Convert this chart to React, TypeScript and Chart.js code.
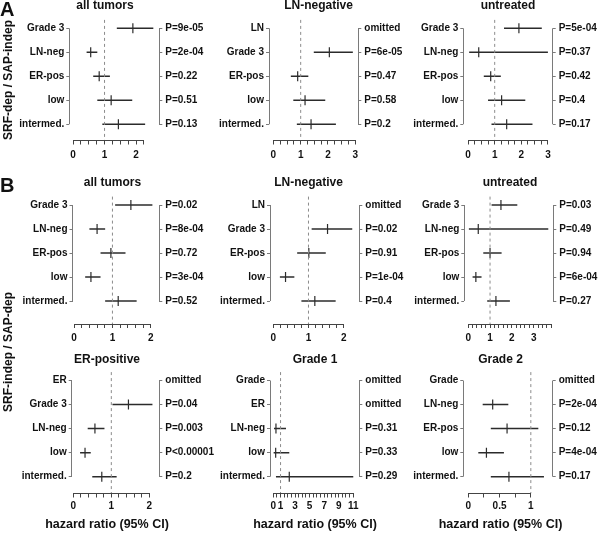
import React, { useEffect, useRef } from 'react';
import { Chart, registerables } from 'chart.js';

Chart.register(...registerables);

const FONT = "'Liberation Sans', Arial, Helvetica, sans-serif";

// ---------------- data ----------------
// Row A: SRF-dep / SAP-indep
const a1Title = 'all tumors';
const a1Categories = ['Grade 3', 'LN-neg', 'ER-pos', 'low', 'intermed.'];
const a1PValues = ['P=9e-05', 'P=2e-04', 'P=0.22', 'P=0.51', 'P=0.13'];
const a1HR = [1.9, 0.56, 0.83, 1.21, 1.44];
const a1Lower = [1.39, 0.43, 0.64, 0.77, 0.93];
const a1Upper = [2.55, 0.77, 1.17, 1.88, 2.29];
const a1TickLabels = [0, 1, 2];

const a2Title = 'LN-negative';
const a2Categories = ['LN', 'Grade 3', 'ER-pos', 'low', 'intermed.'];
const a2PValues = ['omitted', 'P=6e-05', 'P=0.47', 'P=0.58', 'P=0.2'];
const a2HR = [null, 2.05, 0.89, 1.16, 1.38];
const a2Lower = [null, 1.48, 0.64, 0.73, 0.86];
const a2Upper = [null, 2.91, 1.28, 1.9, 2.29];
const a2TickLabels = [0, 1, 2, 3];

const a3Title = 'untreated';
const a3Categories = ['Grade 3', 'LN-neg', 'ER-pos', 'low', 'intermed.'];
const a3PValues = ['P=5e-04', 'P=0.37', 'P=0.42', 'P=0.4', 'P=0.17'];
const a3HR = [1.91, 0.4, 0.85, 1.26, 1.45];
const a3Lower = [1.35, 0.04, 0.59, 0.75, 0.88];
const a3Upper = [2.77, 3.0, 1.23, 2.15, 2.42];
const a3TickLabels = [0, 1, 2, 3];

// Row B: SRF-indep / SAP-dep
const b1Title = 'all tumors';
const b1Categories = ['Grade 3', 'LN-neg', 'ER-pos', 'low', 'intermed.'];
const b1PValues = ['P=0.02', 'P=8e-04', 'P=0.72', 'P=3e-04', 'P=0.52'];
const b1HR = [1.48, 0.6, 0.96, 0.44, 1.15];
const b1Lower = [1.07, 0.4, 0.69, 0.29, 0.81];
const b1Upper = [2.04, 0.81, 1.34, 0.69, 1.63];
const b1TickLabels = [0, 1, 2];

const b2Title = 'LN-negative';
const b2Categories = ['LN', 'Grade 3', 'ER-pos', 'low', 'intermed.'];
const b2PValues = ['omitted', 'P=0.02', 'P=0.91', 'P=1e-04', 'P=0.4'];
const b2HR = [null, 1.54, 1.01, 0.35, 1.18];
const b2Lower = [null, 1.09, 0.68, 0.19, 0.8];
const b2Upper = [null, 2.24, 1.49, 0.6, 1.77];
const b2TickLabels = [0, 1, 2];

const b3Title = 'untreated';
const b3Categories = ['Grade 3', 'LN-neg', 'ER-pos', 'low', 'intermed.'];
const b3PValues = ['P=0.03', 'P=0.49', 'P=0.94', 'P=6e-04', 'P=0.27'];
const b3HR = [1.5, 0.46, 1.0, 0.35, 1.27];
const b3Lower = [1.07, 0.03, 0.69, 0.2, 0.87];
const b3Upper = [2.25, 3.67, 1.53, 0.61, 1.91];
const b3TickLabels = [0, 1, 2, 3];

const c1Title = 'ER-positive';
const c1Categories = ['ER', 'Grade 3', 'LN-neg', 'low', 'intermed.'];
const c1PValues = ['omitted', 'P=0.04', 'P=0.003', 'P<0.00001', 'P=0.2'];
const c1HR = [null, 1.45, 0.57, 0.31, 0.75];
const c1Lower = [null, 1.03, 0.38, 0.18, 0.5];
const c1Upper = [null, 2.08, 0.82, 0.46, 1.14];
const c1TickLabels = [0, 1, 2];

const c2Title = 'Grade 1';
const c2Categories = ['Grade', 'ER', 'LN-neg', 'low', 'intermed.'];
const c2PValues = ['omitted', 'omitted', 'P=0.31', 'P=0.33', 'P=0.29'];
const c2HR = [null, null, 0.37, 0.33, 2.2];
const c2Lower = [null, null, 0.1, 0.05, 0.37];
const c2Upper = [null, null, 1.75, 2.2, 11];
const c2TickLabels = [0, 1, 3, 5, 7, 9, 11];

const c3Title = 'Grade 2';
const c3Categories = ['Grade', 'LN-neg', 'ER-pos', 'low', 'intermed.'];
const c3PValues = ['omitted', 'P=2e-04', 'P=0.12', 'P=4e-04', 'P=0.17'];
const c3HR = [null, 0.39, 0.62, 0.29, 0.65];
const c3Lower = [null, 0.23, 0.36, 0.16, 0.36];
const c3Upper = [null, 0.64, 1.12, 0.57, 1.21];
const c3TickLabels = [0, 0.5, 1];

const xAxisTitle = 'hazard ratio (95% CI)';
const rowALabel = 'SRF-dep / SAP-indep';
const rowBLabel = 'SRF-indep / SAP-dep';

// ---------------- layout ----------------
type RowGeo = { titleY: number; row0: number; spacing: number; axisY: number; tickPad: number; axisBox: number; axisTitleY?: number };
const ROWS: Record<string, RowGeo> = {
  A: { titleY: 6, row0: 28.3, spacing: 24, axisY: 140.5, tickPad: 4.5, axisBox: 24 },
  B: { titleY: 183, row0: 205, spacing: 24, axisY: 324, tickPad: 4, axisBox: 24 },
  C: { titleY: 360, row0: 380.5, spacing: 24.05, axisY: 493.5, tickPad: 2.5, axisBox: 20, axisTitleY: 525 },
};

type Panel = {
  key: string;
  row: 'A' | 'B' | 'C';
  title: string;
  categories: string[];
  pValues: string[];
  hr: (number | null)[];
  lower: (number | null)[];
  upper: (number | null)[];
  tickLabels: number[];
  chartLeft: number;
  chartRight: number;
  titleX: number;
  xMin: number;
  xMax: number;
  axisFrom: number;
  axisTo: number;
  axisStep: number;
};

const PANELS: Panel[] = [
  { key: 'a1', row: 'A', title: a1Title, categories: a1Categories, pValues: a1PValues, hr: a1HR, lower: a1Lower, upper: a1Upper, tickLabels: a1TickLabels,
    chartLeft: 69.3, chartRight: 159.3, titleX: 105, xMin: -0.12, xMax: 2.74, axisFrom: 0, axisTo: 2.25, axisStep: 0.25 },
  { key: 'a2', row: 'A', title: a2Title, categories: a2Categories, pValues: a2PValues, hr: a2HR, lower: a2Lower, upper: a2Upper, tickLabels: a2TickLabels,
    chartLeft: 269, chartRight: 358.3, titleX: 318.7, xMin: -0.16, xMax: 3.11, axisFrom: 0, axisTo: 3, axisStep: 0.25 },
  { key: 'a3', row: 'A', title: a3Title, categories: a3Categories, pValues: a3PValues, hr: a3HR, lower: a3Lower, upper: a3Upper, tickLabels: a3TickLabels,
    chartLeft: 463.3, chartRight: 552.7, titleX: 508, xMin: -0.18, xMax: 3.18, axisFrom: 0, axisTo: 3, axisStep: 0.25 },
  { key: 'b1', row: 'B', title: b1Title, categories: b1Categories, pValues: b1PValues, hr: b1HR, lower: b1Lower, upper: b1Upper, tickLabels: b1TickLabels,
    chartLeft: 72.5, chartRight: 159.3, titleX: 112.5, xMin: -0.04, xMax: 2.22, axisFrom: 0, axisTo: 2, axisStep: 0.2 },
  { key: 'b2', row: 'B', title: b2Title, categories: b2Categories, pValues: b2PValues, hr: b2HR, lower: b2Lower, upper: b2Upper, tickLabels: b2TickLabels,
    chartLeft: 270, chartRight: 359.3, titleX: 308.3, xMin: -0.09, xMax: 2.44, axisFrom: 0, axisTo: 2, axisStep: 0.2 },
  { key: 'b3', row: 'B', title: b3Title, categories: b3Categories, pValues: b3PValues, hr: b3HR, lower: b3Lower, upper: b3Upper, tickLabels: b3TickLabels,
    chartLeft: 464.3, chartRight: 553.3, titleX: 510, xMin: -0.18, xMax: 3.9, axisFrom: 0, axisTo: 3.8, axisStep: 0.2 },
  { key: 'c1', row: 'C', title: c1Title, categories: c1Categories, pValues: c1PValues, hr: c1HR, lower: c1Lower, upper: c1Upper, tickLabels: c1TickLabels,
    chartLeft: 71.7, chartRight: 159.3, titleX: 107, xMin: -0.04, xMax: 2.26, axisFrom: 0, axisTo: 2, axisStep: 0.2 },
  { key: 'c2', row: 'C', title: c2Title, categories: c2Categories, pValues: c2PValues, hr: c2HR, lower: c2Lower, upper: c2Upper, tickLabels: c2TickLabels,
    chartLeft: 270, chartRight: 359.3, titleX: 315, xMin: -0.45, xMax: 11.83, axisFrom: 0, axisTo: 11, axisStep: 0.5 },
  { key: 'c3', row: 'C', title: c3Title, categories: c3Categories, pValues: c3PValues, hr: c3HR, lower: c3Lower, upper: c3Upper, tickLabels: c3TickLabels,
    chartLeft: 463.3, chartRight: 552.7, titleX: 500.5, xMin: -0.08, xMax: 1.35, axisFrom: 0, axisTo: 1, axisStep: 0.25 },
];

const TEXT = '#111111';
const CI_COLOR = '#2b2b2b';
const Y_AXIS_COLOR = '#7a7a7a';
const X_AXIS_COLOR = '#444444';
const REF_COLOR = '#8c8c8c';

function geometry(p: Panel) {
  const r = ROWS[p.row];
  const yMin = -0.5;
  const yMax = (r.axisY - r.row0) / r.spacing;
  const chartTop = r.row0 + yMin * r.spacing;
  const L = Math.floor(Math.min(p.chartLeft - 64, 2 * p.titleX - p.chartRight - 56));
  const W = Math.round(2 * (p.titleX - L));
  const wl = p.chartLeft - L;
  const wr = W - wl - (p.chartRight - p.chartLeft);
  const T = Math.floor(r.titleY - 8);
  const tPadTop = r.titleY - T - 6;
  const tPadBottom = chartTop - T - tPadTop - 12;
  let H: number;
  let axisBox: number;
  let sub: null | { top: number; bottom: number } = null;
  if (r.axisTitleY !== undefined) {
    const subTop = r.axisY + r.axisBox;
    const sPadTop = r.axisTitleY - subTop - 6.25;
    H = Math.ceil(subTop + sPadTop + 12.5 + 2 - T);
    const sPadBottom = T + H - (subTop + sPadTop + 12.5);
    sub = { top: sPadTop, bottom: sPadBottom };
    axisBox = r.axisBox;
  } else {
    H = Math.round(r.axisY + r.axisBox - T);
    axisBox = T + H - r.axisY;
  }
  return { r, yMin, yMax, L, W, wl, wr, T, H, tPadTop, tPadBottom, axisBox, sub };
}

const alignPx = (v: number) => Math.round(v - 0.5) + 0.5;

const axisLinesPlugin = {
  id: 'axisLines',
  afterDatasetsDraw(chart: any, _args: any, opts: any) {
    const { ctx, chartArea, scales } = chart;
    const x = scales.x;
    const y = scales.y;
    const yTop = y.getPixelForValue(0);
    const yBot = y.getPixelForValue(opts.rows - 1);
    ctx.save();
    ctx.lineWidth = 1;
    ctx.strokeStyle = Y_AXIS_COLOR;
    ctx.beginPath();
    const lx = alignPx(chartArea.left);
    const rx = alignPx(chartArea.right);
    ctx.moveTo(lx, yTop);
    ctx.lineTo(lx, yBot);
    ctx.moveTo(rx, yTop);
    ctx.lineTo(rx, yBot);
    ctx.stroke();
    ctx.strokeStyle = X_AXIS_COLOR;
    ctx.beginPath();
    const by = alignPx(chartArea.bottom);
    ctx.moveTo(alignPx(x.getPixelForValue(opts.from)) - 0.5, by);
    ctx.lineTo(alignPx(x.getPixelForValue(opts.to)) + 0.5, by);
    ctx.stroke();
    ctx.restore();
  },
};

function buildConfig(p: Panel, g: ReturnType<typeof geometry>): any {
  const n = p.categories.length;
  const datasets: any[] = [];
  datasets.push({
    data: [{ x: 1, y: -0.35 }, { x: 1, y: g.yMax }],
    showLine: true,
    borderColor: REF_COLOR,
    borderWidth: 1,
    borderDash: [3, 3],
    pointRadius: 0,
  });
  p.hr.forEach((_, i) => {
    const lo = p.lower[i];
    const hi = p.upper[i];
    if (lo === null || hi === null) return;
    datasets.push({
      data: [{ x: lo, y: i }, { x: hi, y: i }],
      showLine: true,
      borderColor: CI_COLOR,
      borderWidth: 1.5,
      pointRadius: 0,
    });
  });
  datasets.push({
    data: p.hr.map((v, i) => (v === null ? null : { x: v, y: i })).filter((d) => d !== null),
    showLine: false,
    pointStyle: 'line',
    pointRotation: 90,
    pointRadius: 5,
    pointBorderColor: CI_COLOR,
    pointBorderWidth: 1.2,
  });

  const axisTicks: number[] = [];
  const steps = Math.round((p.axisTo - p.axisFrom) / p.axisStep);
  for (let i = 0; i <= steps; i++) axisTicks.push(+(p.axisFrom + i * p.axisStep).toFixed(4));

  const tickFont = { family: FONT, size: 10, weight: 'bold' as const, lineHeight: 1.2 };
  const yCommon = (pos: 'left' | 'right', labels: string[], width: number, pad: number) => ({
    type: 'linear',
    position: pos,
    reverse: true,
    min: g.yMin,
    max: g.yMax,
    afterBuildTicks: (s: any) => {
      s.ticks = labels.map((_, i) => ({ value: i }));
    },
    afterFit: (s: any) => {
      s.width = width;
    },
    border: { display: false },
    grid: { display: true, drawOnChartArea: false, drawTicks: true, tickLength: 3, color: Y_AXIS_COLOR, lineWidth: 1 },
    ticks: {
      autoSkip: false,
      padding: pad,
      color: TEXT,
      font: tickFont,
      callback: (v: number) => labels[Math.round(v)] ?? '',
    },
  });

  return {
    type: 'scatter',
    data: { datasets },
    options: {
      responsive: false,
      animation: false,
      events: [],
      layout: { padding: 0, autoPadding: false },
      plugins: {
        legend: { display: false },
        tooltip: { enabled: false },
        title: {
          display: true,
          text: p.title,
          color: TEXT,
          font: { family: FONT, size: 12, weight: 'bold', lineHeight: 1 },
          padding: { top: g.tPadTop, bottom: g.tPadBottom },
        },
        subtitle: g.sub
          ? {
              display: true,
              position: 'bottom',
              text: xAxisTitle,
              color: TEXT,
              font: { family: FONT, size: 12.5, weight: 'bold', lineHeight: 1 },
              padding: { top: g.sub.top, bottom: g.sub.bottom },
            }
          : { display: false },
        axisLines: { rows: n, from: p.axisFrom, to: p.axisTo },
      },
      scales: {
        x: {
          type: 'linear',
          position: 'bottom',
          min: p.xMin,
          max: p.xMax,
          afterBuildTicks: (s: any) => {
            s.ticks = axisTicks.map((v) => ({ value: v }));
          },
          afterFit: (s: any) => {
            s.height = g.axisBox;
          },
          border: { display: false },
          grid: { display: true, drawOnChartArea: false, drawTicks: true, tickLength: 4, color: X_AXIS_COLOR, lineWidth: 1 },
          ticks: {
            autoSkip: false,
            maxRotation: 0,
            minRotation: 0,
            padding: g.r.tickPad,
            color: TEXT,
            font: tickFont,
            callback: (v: number) => {
              const hit = p.tickLabels.find((t) => Math.abs(t - v) < 1e-6);
              return hit === undefined ? '' : String(hit);
            },
          },
        },
        y: yCommon('left', p.categories, g.wl, 2),
        y2: yCommon('right', p.pValues, g.wr, 3),
      },
    },
    plugins: [axisLinesPlugin],
  };
}

function ForestPanel({ panel }: { panel: Panel }) {
  const ref = useRef<HTMLCanvasElement | null>(null);
  const g = geometry(panel);
  useEffect(() => {
    if (!ref.current) return;
    const chart = new Chart(ref.current, buildConfig(panel, geometry(panel)));
    return () => chart.destroy();
  }, [panel]);
  return (
    <canvas
      ref={ref}
      width={g.W}
      height={g.H}
      style={{ position: 'absolute', left: g.L, top: g.T, width: g.W, height: g.H }}
    />
  );
}

const letterStyle: React.CSSProperties = {
  position: 'absolute',
  left: 0,
  fontFamily: FONT,
  fontWeight: 'bold',
  fontSize: 20,
  lineHeight: '20px',
  color: TEXT,
};

const sideLabelStyle = (cx: number, cy: number): React.CSSProperties => ({
  position: 'absolute',
  left: cx,
  top: cy,
  transform: 'translate(-50%, -50%) rotate(-90deg)',
  fontFamily: FONT,
  fontWeight: 'bold',
  fontSize: 12,
  lineHeight: '12px',
  whiteSpace: 'nowrap',
  color: TEXT,
});

export default function App() {
  return (
    <div
      style={{
        position: 'fixed',
        left: 0,
        top: 0,
        width: 600,
        height: 533,
        overflow: 'hidden',
        background: '#ffffff',
      }}
    >
      {PANELS.map((p) => (
        <ForestPanel key={p.key} panel={p} />
      ))}
      <div style={{ ...letterStyle, top: -0.6 }}>A</div>
      <div style={{ ...letterStyle, top: 175.4 }}>B</div>
      <div style={sideLabelStyle(8, 80)}>{rowALabel}</div>
      <div style={sideLabelStyle(8, 352)}>{rowBLabel}</div>
    </div>
  );
}
